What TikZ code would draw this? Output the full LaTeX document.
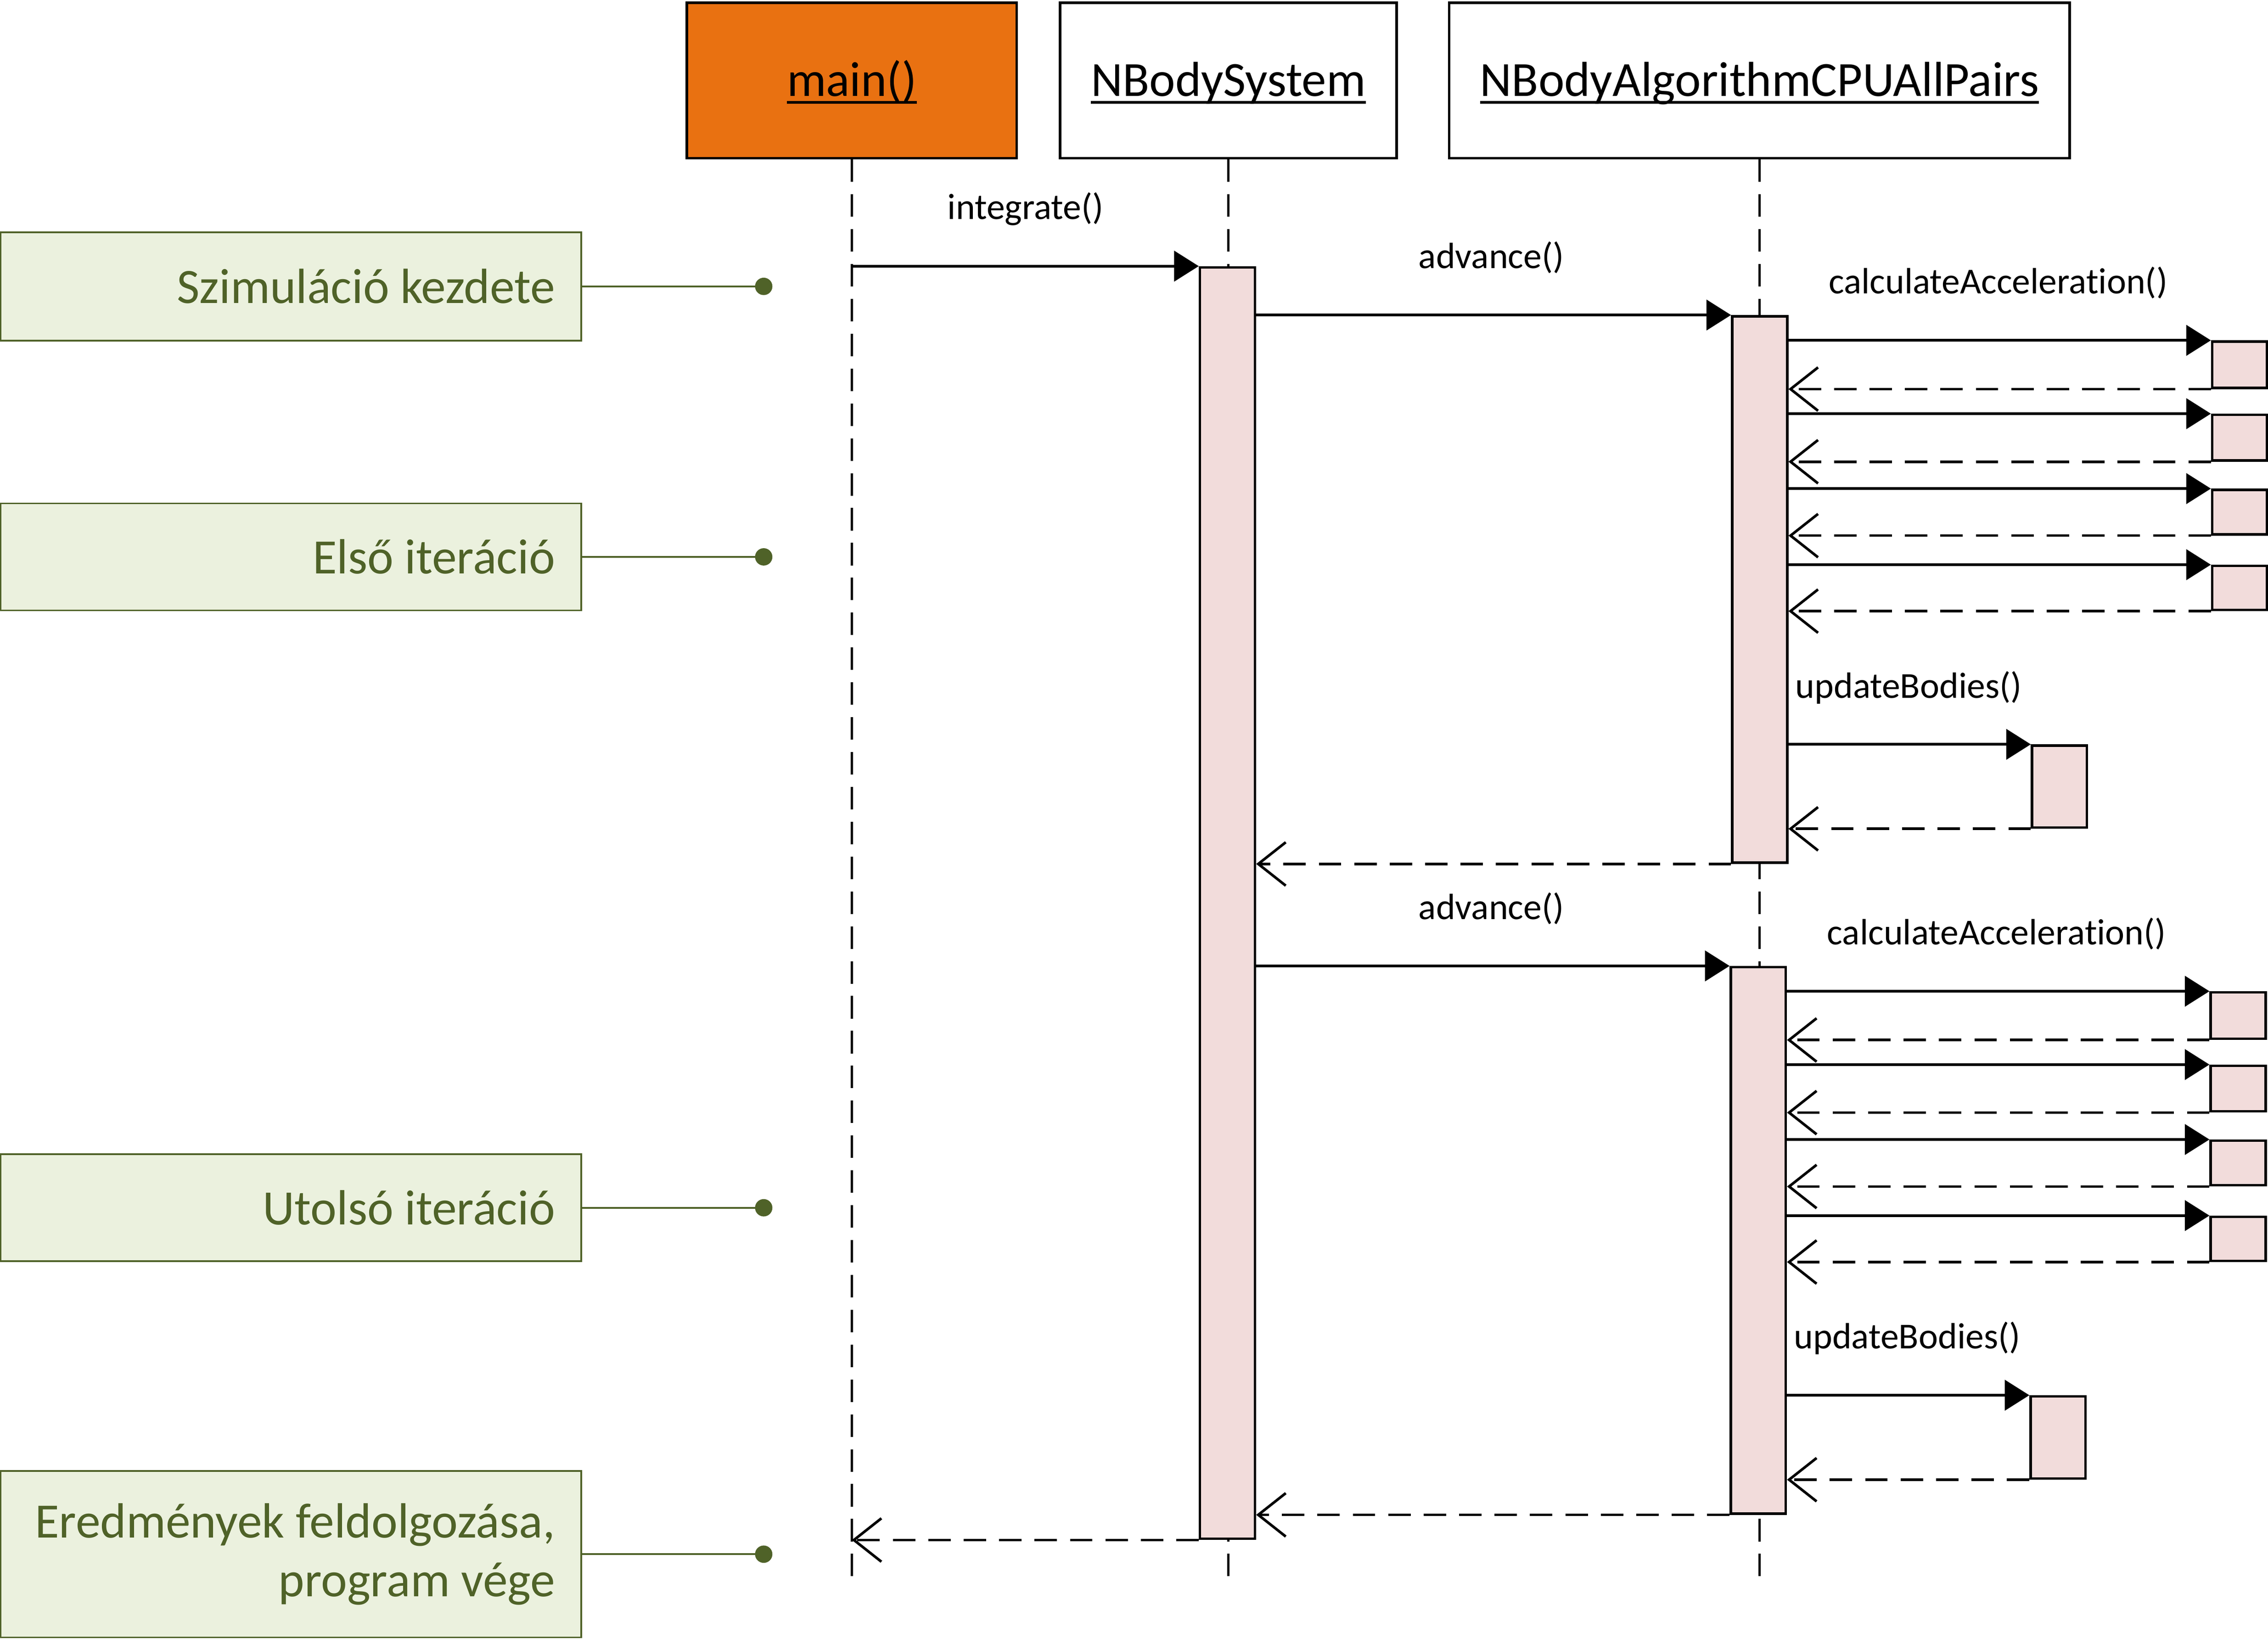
\documentclass[tikz,border=0pt]{standalone}
\usepackage{fontspec}
\setmainfont{Carlito}[Ligatures=NoCommon]
\usetikzlibrary{arrows.meta}
\definecolor{orangefill}{RGB}{233,113,17}
\definecolor{actfill}{RGB}{242,220,219}
\definecolor{notefill}{RGB}{235,241,222}
\definecolor{olivec}{RGB}{79,98,40}
\newcommand\headul[1]{\setbox0\hbox{#1}\rlap{\rule[-5.2pt]{\wd0}{2pt}}\box0}
\begin{document}
\begin{tikzpicture}[x=1pt,y=-1pt,
  headbox/.style={draw=black, line width=1.8pt, minimum height=107.3pt, inner sep=0pt,
    text height=21.8pt, text depth=0pt, font=\fontsize{34}{40}\selectfont, anchor=north west},
  actbox/.style={draw=black, fill=actfill, line width=1.7pt, minimum width=38pt, inner sep=0pt, anchor=north},
  smallbox/.style={draw=black, fill=actfill, line width=1.7pt, minimum width=38pt, inner sep=0pt, anchor=north west},
  life/.style={line width=1.7pt, dash pattern=on 15.6pt off 8.5pt},
  callarrow/.style={line width=1.8pt, -{Triangle[length=17pt,width=21pt]}},
  retarrow/.style={line width=1.8pt, dash pattern=on 15.5pt off 9pt, -{Straight Barb[length=19pt,width=30pt]}},
  msg/.style={font=\fontsize{25.3}{30}\selectfont, inner sep=0pt},
  notebox/.style={draw=olivec, fill=notefill, line width=1.2pt, minimum width=401.5pt, inner xsep=18pt,
    text width=365.5pt, align=flush right, text=olivec, font=\fontsize{34.2}{40.5}\selectfont},
  noteline/.style={draw=olivec, line width=1.3pt},
  notedot/.style={circle, fill=olivec, minimum size=12pt, inner sep=0pt}
]
\useasboundingbox (0,0) rectangle (1568,1133);

% headers
\node[headbox, fill=orangefill, minimum width=228pt] (mainH) at (474,1.1) {\headul{main()}};
\node[headbox, fill=white, minimum width=232.6pt] (nsH) at (732,1.1) {\headul{NBodySystem}};
\node[headbox, fill=white, minimum width=429pt] (algH) at (1001,1.1) {\headul{NBodyAlgorithmCPUAllPairs}};

\coordinate (lifeend) at (0,1097.8);
\draw[life] (mainH.south) -- (mainH.south |- lifeend);
\draw[life] (nsH.south) -- (nsH.south |- lifeend);
\draw[life] (algH.south) -- (algH.south |- lifeend);

% activations
\node[actbox, minimum height=879pt] (NS) at (848.6,184) {};
\node[actbox, minimum height=377.8pt] (A1) at (1216.6,217.8) {};
\node[actbox, minimum height=377.8pt] (A2) at (1215.6,667.8) {};

% small boxes, first iteration
\node[smallbox, minimum height=32pt] (b11) at (1528.5,235.3) {};
\node[smallbox, minimum height=31.5pt] (b12) at (1528.5,286) {};
\node[smallbox, minimum height=30.8pt] (b13) at (1528.5,337.8) {};
\node[smallbox, minimum height=30.4pt] (b14) at (1528.5,390.4) {};
\node[smallbox, minimum height=56.7pt] (u1) at (1404,514.6) {};
% small boxes, last iteration
\node[smallbox, minimum height=32pt] (b21) at (1527.5,685.3) {};
\node[smallbox, minimum height=31.5pt] (b22) at (1527.5,736) {};
\node[smallbox, minimum height=30.8pt] (b23) at (1527.5,787.8) {};
\node[smallbox, minimum height=30.4pt] (b24) at (1527.5,840.4) {};
\node[smallbox, minimum height=56.7pt] (u2) at (1403,964.6) {};

% messages
\draw[callarrow] (NS.north west -| mainH.south) -- (NS.north west);
\node[msg, anchor=base] (lint) at (709,151.7) {integrate()};

\draw[callarrow] (A1.north west -| NS.east) -- (A1.north west);
\node[msg, anchor=base] (ladv1) at (1031,185.5) {advance()};
\node[msg, anchor=base] (lcalc1) at (1381.4,202.9) {calculateAcceleration()};
\foreach \b in {b11,b12,b13,b14,u1}{
  \draw[callarrow] (\b.north west -| A1.east) -- (\b.north west);
  \draw[retarrow] (\b.south west) -- (\b.south west -| A1.east);
}
\node[msg, anchor=base west] (lupd1) at (1241,482.5) {updateBodies()};
\draw[retarrow] (A1.south west) -- (A1.south west -| NS.east);

\draw[callarrow] (A2.north west -| NS.east) -- (A2.north west);
\node[msg, anchor=base] (ladv2) at (1031,635.5) {advance()};
\node[msg, anchor=base] (lcalc2) at (1380.4,652.9) {calculateAcceleration()};
\foreach \b in {b21,b22,b23,b24,u2}{
  \draw[callarrow] (\b.north west -| A2.east) -- (\b.north west);
  \draw[retarrow] (\b.south west) -- (\b.south west -| A2.east);
}
\node[msg, anchor=base west] (lupd2) at (1240,932.5) {updateBodies()};
\draw[retarrow] (A2.south west) -- (A2.south west -| NS.east);

\draw[retarrow] (NS.south west) -- (NS.south west -| mainH.south);

% notes
\node[notebox, minimum height=75pt] (n1) at (201,198) {Szimuláció kezdete};
\node[notebox, minimum height=74pt] (n2) at (201,385) {Első iteráció};
\node[notebox, minimum height=74pt] (n3) at (201,835) {Utolsó iteráció};
\node[notebox, minimum height=115pt] (n4) at (201,1074.5) {Eredmények feldolgozása,\\ program vége};
\node[notedot] (d1) at (528,198) {};
\node[notedot] (d2) at (528,385) {};
\node[notedot] (d3) at (528,835) {};
\node[notedot] (d4) at (528,1074.5) {};
\draw[noteline] (n1.east) -- (d1.center);
\draw[noteline] (n2.east) -- (d2.center);
\draw[noteline] (n3.east) -- (d3.center);
\draw[noteline] (n4.east) -- (d4.center);
\end{tikzpicture}
\end{document}
